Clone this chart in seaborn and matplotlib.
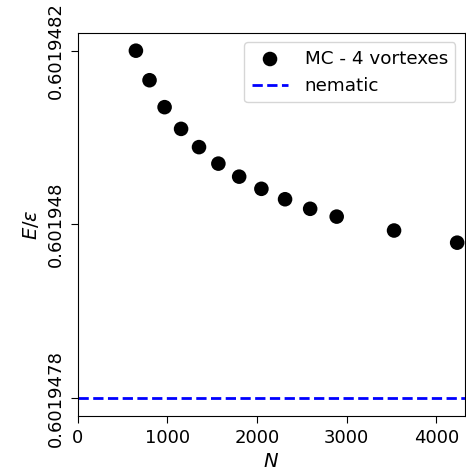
import matplotlib
matplotlib.use("Agg")
import matplotlib.pyplot as plt
import seaborn as sns
import pandas as pd
from matplotlib.ticker import ScalarFormatter

plt.rcParams['font.family'] = ['DejaVu Sans']

N_values = [648, 800, 968, 1152, 1352, 1568, 1800, 2048, 2312, 2592, 2888, 3528, 4232]
energy = [0.60194820, 0.601948166, 0.601948135, 0.601948110, 0.601948089,
          0.601948070, 0.601948055, 0.601948041, 0.601948029, 0.601948018,
          0.601948009, 0.601947993, 0.601947979]
nematic = 0.6019478
yticks = [0.6019478, 0.601948, 0.6019482]
xticks = [0, 1000, 2000, 3000, 4000]

df = pd.DataFrame({"N": N_values, "E": energy})

fig = plt.figure(figsize=(4.66, 4.76), dpi=100)
ax = fig.add_axes([0.167, 0.127, 0.830, 0.803])
sns.scatterplot(data=df, x="N", y="E", ax=ax, color="black", s=110,
                edgecolor="none", label="MC - 4 vortexes", zorder=3)
ax.axhline(nematic, color="blue", linestyle="--", lw=2, label="nematic")
ax.set_xlim(0, 4315)
ax.set_xticks(xticks)
ax.set_yticks(yticks)
fmt = ScalarFormatter(useOffset=False)
ax.yaxis.set_major_formatter(fmt)
ax.set_yticklabels([str(v) for v in yticks], rotation=90, va="center")
ax.tick_params(labelsize=13, length=4.8, pad=4.6)
ax.set_xlabel("$N$", fontsize=14)
ax.set_ylabel(r"$E/\epsilon$", fontsize=14)
ax.legend(loc="upper right", fontsize=13.2, handletextpad=0.9)
fig.savefig("out.png", dpi=100)
